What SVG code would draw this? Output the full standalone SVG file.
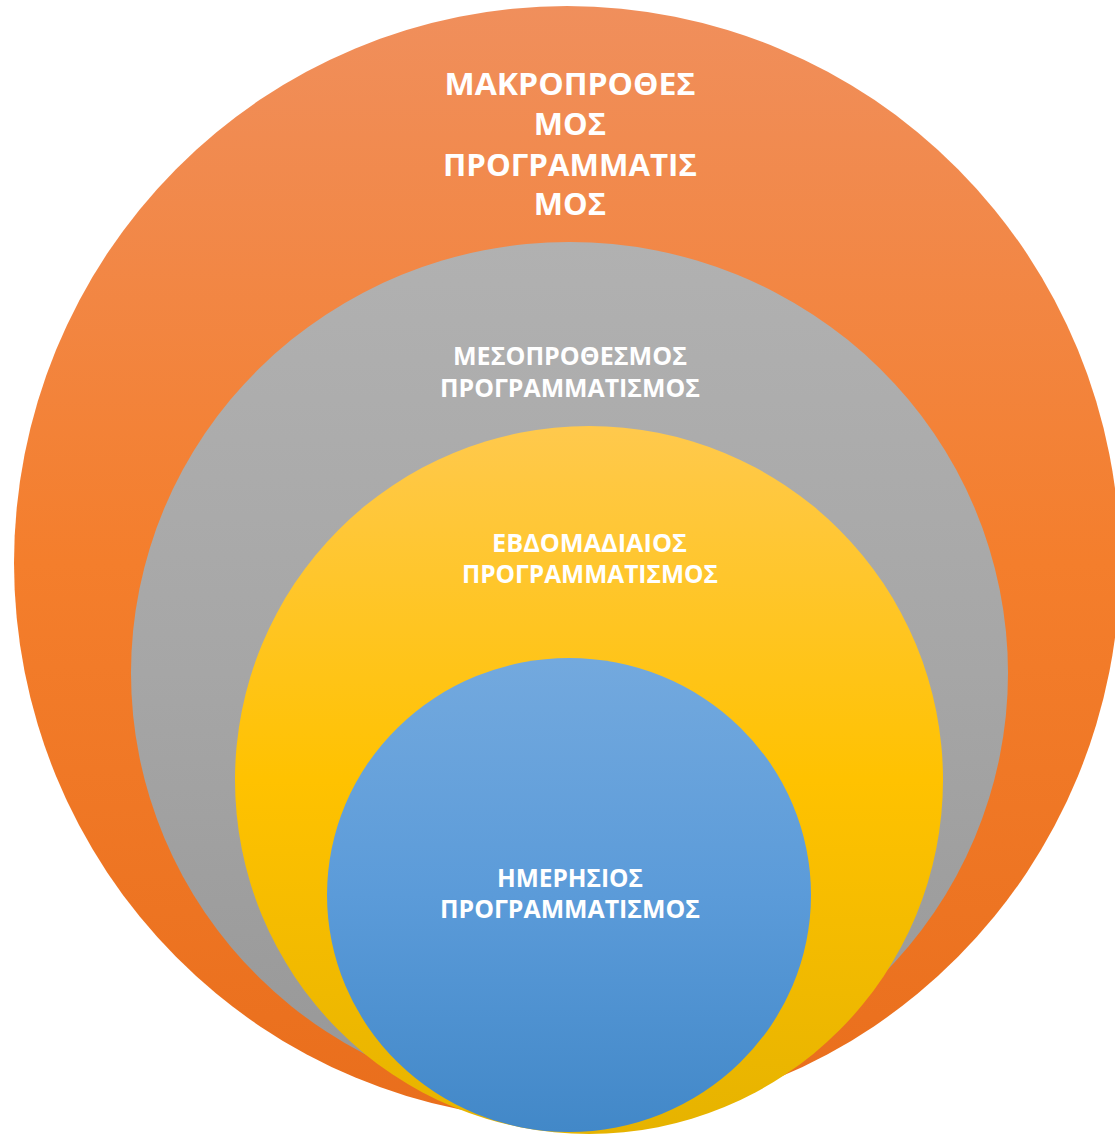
<svg xmlns="http://www.w3.org/2000/svg" width="1115" height="1135" viewBox="0 0 1115 1135">
<defs>
<linearGradient id="gOrange" x1="0" y1="0" x2="0" y2="1">
<stop offset="0" stop-color="#F08F5C"/>
<stop offset="0.5" stop-color="#F47E2C"/>
<stop offset="1" stop-color="#E96E1C"/>
</linearGradient>
<linearGradient id="gGray" x1="0" y1="0" x2="0" y2="1">
<stop offset="0" stop-color="#B1B1B1"/>
<stop offset="0.5" stop-color="#A6A6A6"/>
<stop offset="1" stop-color="#979797"/>
</linearGradient>
<linearGradient id="gYellow" x1="0" y1="0" x2="0" y2="1">
<stop offset="0" stop-color="#FFC94D"/>
<stop offset="0.5" stop-color="#FFC200"/>
<stop offset="1" stop-color="#E6B300"/>
</linearGradient>
<linearGradient id="gBlue" x1="0" y1="0" x2="0" y2="1">
<stop offset="0" stop-color="#73A9DE"/>
<stop offset="0.5" stop-color="#5B9BD9"/>
<stop offset="1" stop-color="#4288C8"/>
</linearGradient>
</defs>
<style>
text { font-family: "Open Sans", "Noto Sans", "DejaVu Sans", sans-serif; font-weight: bold; fill: #FFFFFF; text-anchor: middle; }
.big { font-size: 31px; }
.small { font-size: 25px; }
</style>
<g id="node-macro">
<ellipse cx="567" cy="563" rx="553" ry="557" fill="url(#gOrange)"/>
<text class="big" x="570" y="95" textLength="251" lengthAdjust="spacingAndGlyphs">ΜΑΚΡΟΠΡΟΘΕΣ</text>
<text class="big" x="570" y="135">ΜΟΣ</text>
<text class="big" x="570" y="176" textLength="254" lengthAdjust="spacingAndGlyphs">ΠΡΟΓΡΑΜΜΑΤΙΣ</text>
<text class="big" x="570" y="215">ΜΟΣ</text>
</g>
<g id="node-meso">
<ellipse cx="569.5" cy="673" rx="438.5" ry="431" fill="url(#gGray)"/>
<text class="small" x="570" y="365" textLength="234" lengthAdjust="spacingAndGlyphs">ΜΕΣΟΠΡΟΘΕΣΜΟΣ</text>
<text class="small" x="570" y="397" textLength="260" lengthAdjust="spacingAndGlyphs">ΠΡΟΓΡΑΜΜΑΤΙΣΜΟΣ</text>
</g>
<g id="node-weekly">
<ellipse cx="589" cy="780" rx="354" ry="354" fill="url(#gYellow)"/>
<text class="small" x="589.5" y="552" textLength="195" lengthAdjust="spacingAndGlyphs">ΕΒΔΟΜΑΔΙΑΙΟΣ</text>
<text class="small" x="590" y="583" textLength="256" lengthAdjust="spacingAndGlyphs">ΠΡΟΓΡΑΜΜΑΤΙΣΜΟΣ</text>
</g>
<g id="node-daily">
<ellipse cx="569" cy="895" rx="242" ry="237" fill="url(#gBlue)"/>
<text class="small" x="570" y="887" textLength="146" lengthAdjust="spacingAndGlyphs">ΗΜΕΡΗΣΙΟΣ</text>
<text class="small" x="570" y="918" textLength="260" lengthAdjust="spacingAndGlyphs">ΠΡΟΓΡΑΜΜΑΤΙΣΜΟΣ</text>
</g>
<g id="connectors"/>
</svg>
